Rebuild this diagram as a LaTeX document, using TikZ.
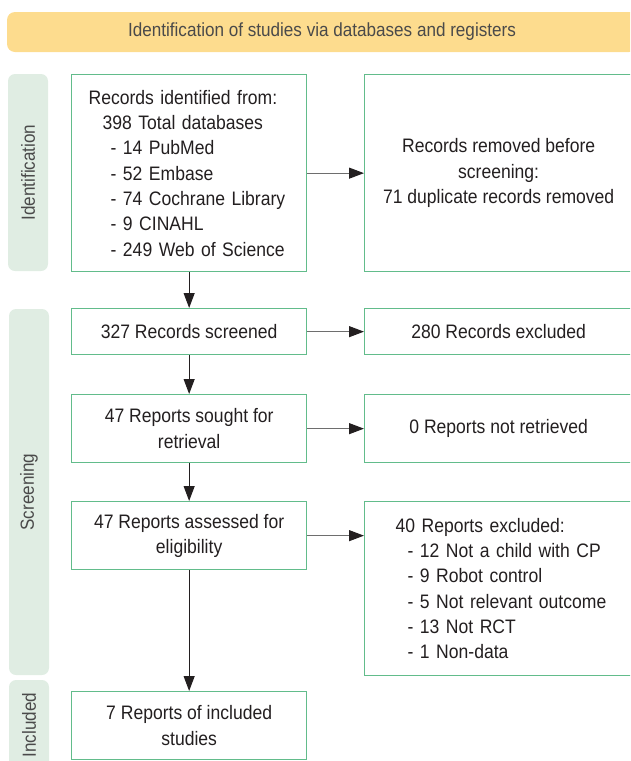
\documentclass[tikz,border=0pt]{standalone}
\usepackage{fontspec}
\setmainfont{Liberation Sans}[FakeStretch=0.9]
\usetikzlibrary{arrows.meta}

\definecolor{bannerfill}{HTML}{FDDC8E}
\definecolor{sidefill}{HTML}{E0EDE3}
\definecolor{boxline}{HTML}{62BC8B}
\definecolor{inkgray}{HTML}{231F20}
\definecolor{labelgray}{HTML}{4A4A4A}
\definecolor{linegray}{HTML}{6E6E6E}

\begin{document}
\begin{tikzpicture}[x=1pt, y=-1pt,
  box/.style={rectangle, draw=boxline, line width=1.3pt, fill=white, text=inkgray, inner sep=0pt, anchor=north west, align=center, font=\fontsize{19.5}{25.3}\selectfont},
  sidebar/.style={rectangle, fill=sidefill, rounded corners=7pt, rotate=90, minimum height=40pt, inner sep=0pt, text=labelgray, font=\fontsize{19}{22}\selectfont},
  flow/.style={-{Triangle[length=15pt, width=11pt]}, line width=1pt, draw=inkgray},
  side/.style={-{Triangle[length=15pt, width=11pt, color=inkgray]}, line width=1pt, draw=linegray}]
\useasboundingbox (0,0) rectangle (630,761);
\clip (0,0) rectangle (630,761);

% header and phase bars
\node[rectangle, fill=bannerfill, rounded corners=8pt, minimum width=630pt, minimum height=40pt, text=labelgray, font=\fontsize{19}{22}\selectfont] (banner) at (322,32) {Identification of studies via databases and registers};
\node[sidebar, minimum width=197pt] (idbar) at (28,172.5) {Identification};
\node[sidebar, minimum width=366pt] (scrbar) at (29,492) {Screening};
\node[sidebar, minimum width=90pt] (incbar) at (29,725) {Included};

% left column
\node[box, minimum width=235pt, minimum height=197pt, text width=201pt, align=left] (ident) at (71,74) {Records identified from:\\ \hspace*{14pt}398 Total databases\\ \hspace*{22pt}- 14 PubMed\\ \hspace*{22pt}- 52 Embase\\ \hspace*{22pt}- 74 Cochrane Library\\ \hspace*{22pt}- 9 CINAHL\\ \hspace*{22pt}- 249 Web of Science};
\node[box, minimum width=235pt, minimum height=46pt] (screened) at (71,308) {327 Records screened};
\node[box, minimum width=235pt, minimum height=68pt] (sought) at (71,394) {47 Reports sought for\\ retrieval};
\node[box, minimum width=235pt, minimum height=68pt] (assessed) at (71,501) {47 Reports assessed for\\ eligibility};
\node[box, minimum width=235pt, minimum height=68pt] (incl) at (71,691) {7 Reports of included\\ studies};

% right column
\node[box, minimum width=268pt, minimum height=197pt] (removed) at (364,74) {Records removed before\\ screening:\\ 71 duplicate records removed};
\node[box, minimum width=268pt, minimum height=46pt] (excl) at (364,308) {280 Records excluded};
\node[box, minimum width=268pt, minimum height=68pt] (notretr) at (364,394) {0 Reports not retrieved};
\node[box, minimum width=280pt, minimum height=174pt, text width=218pt, align=left] (exclrep) at (364,501) {40 Reports excluded:\\ \hspace*{12pt}- 12 Not a child with CP\\ \hspace*{12pt}- 9 Robot control\\ \hspace*{12pt}- 5 Not relevant outcome\\ \hspace*{12pt}- 13 Not RCT\\ \hspace*{12pt}- 1 Non-data};

% arrows
\draw[flow] (ident) -- (screened);
\draw[flow] (screened) -- (sought);
\draw[flow] (sought) -- (assessed);
\draw[flow] (assessed) -- (incl);
\draw[side] (ident) -- (removed);
\draw[side] (screened) -- (excl);
\draw[side] (sought) -- (notretr);
\draw[side] (assessed.east) -- (assessed.east -| exclrep.west);
\end{tikzpicture}
\end{document}
